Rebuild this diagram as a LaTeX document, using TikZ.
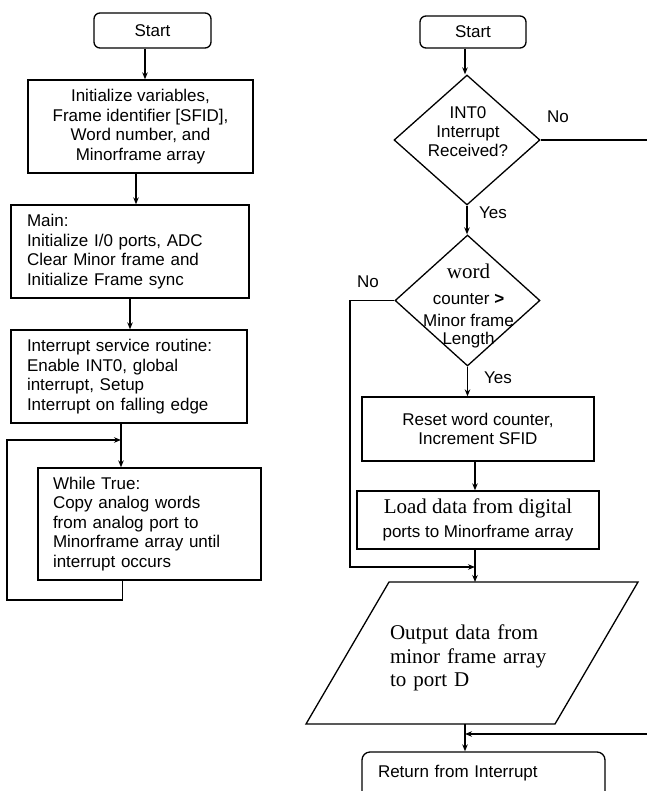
\documentclass[tikz,border=0pt]{standalone}
\usepackage{fontspec}
\setmainfont{Liberation Sans}
\newfontfamily\serifit{Liberation Serif}
\usetikzlibrary{shapes.geometric,arrows.meta}
\tikzset{
 base/.style={draw, line width=1.3pt, font=\fontsize{17}{19.5}\selectfont, inner sep=0pt},
 term/.style={base, rounded corners=6pt, align=center},
 box/.style={base, rectangle, align=center},
 lbox/.style={base, rectangle, align=left},
 dec/.style={draw, line width=1.3pt, diamond, inner sep=0pt},
 txt/.style={font=\fontsize{17}{19}\selectfont, align=center, inner sep=0pt},
 lbl/.style={font=\fontsize{17}{19.5}\selectfont, inner sep=0pt},
 ptxt/.style={font=\serifit\fontsize{21}{23.5}\selectfont, inner sep=0pt},
 arr/.style={line width=1.3pt, -{Stealth[length=7pt,width=5.5pt]}},
 ln/.style={line width=1.3pt},
}
\begin{document}
\begin{tikzpicture}[x=1pt,y=-1pt]
\useasboundingbox (0,0) rectangle (646,791);
\fill[white] (0,0) rectangle (646,791);
% left column
\node[term, minimum width=117pt, minimum height=35pt] (s1) at (152.5,30.5) {Start};
\node[box, minimum width=225pt, minimum height=93pt] (init) at (140.5,126.5) {Initialize variables,\\Frame identifier [SFID],\\Word number, and\\Minorframe array};
\node[lbox, text width=206pt, inner xsep=16pt, minimum height=93pt] (main) at (130,251.5) {Main:\\Initialize I/0 ports, ADC\\Clear Minor frame and\\Initialize Frame sync};
\node[lbox, text width=204pt, inner xsep=16pt, minimum height=93pt] (isr) at (129,376.5) {Interrupt service routine:\\Enable INT0, global\\interrupt, Setup\\Interrupt on falling edge};
\node[lbox, text width=193pt, inner xsep=15pt, minimum height=112pt] (wh) at (149.5,524) {While True:\\Copy analog words\\from analog port to\\Minorframe array until\\interrupt occurs};
\coordinate (c1) at ([xshift=-7.5pt]s1.south);
\draw[arr] (c1) -- (c1 |- init.north);
\coordinate (c2) at ([xshift=-4.5pt]init.south);
\draw[arr] (c2) -- (c2 |- main.north);
\draw[arr] (main.south) -- (main.south |- isr.north);
\coordinate (c4) at ([xshift=-8pt]isr.south);
\draw[arr] (c4) -- (c4 |- wh.north);
\coordinate (c5) at ([xshift=-27pt]wh.south);
\coordinate (loopB) at (7,600);
\coordinate (loopT) at (7,440);
\draw[arr] (c5) -- (c5 |- loopB) -- (loopB) -- (loopT) -- (loopT -| c4);
% right column
\node[term, minimum width=106pt, minimum height=32pt] (s2) at (473,32) {Start};
\node[dec, minimum width=146pt, minimum height=130pt] (d1) at (467,140) {};
\node[txt] (d1t) at ([xshift=1pt,yshift=8pt]d1.center) {INT0\\Interrupt\\Received?};
\coordinate (c6) at ([xshift=-8pt]s2.south);
\draw[arr] (c6) -- (c6 |- d1.north);
\node[lbl] (no1) at (558,117) {No};
\node[lbl] (yes1) at (493,213) {Yes};
\coordinate (rE1) at (650,140);
\draw[ln] (d1.east) -- (d1.east -| rE1);
\node[dec, minimum width=145pt, minimum height=131pt] (d2) at (467.5,300.5) {};
\node[txt, font=\fontsize{17}{19.5}\selectfont] (d2t) at ([xshift=1pt,yshift=-5.6pt]d2.center) {{\serifit\fontsize{21}{24}\selectfont word}\\[6pt]counter \textbf{>}\\[3pt]Minor frame\\[-1.5pt]Length};
\draw[arr] (d1.south) -- (d1.south |- d2.north);
\node[lbl] (no2) at (368,282) {No};
\node[lbl] (yes2) at (498,378) {Yes};
\node[box, minimum width=232pt, minimum height=64pt] (reset) at (478,429) {Reset word counter,\\Increment SFID};
\draw[arr] (d2.south) -- (d2.south |- reset.north);
\node[box, minimum width=242pt, minimum height=58pt] (load) at (478,520) {{\serifit\fontsize{21}{24}\selectfont Load data from digital}\\[4.5pt]ports to Minorframe array};
\coordinate (c8) at ([xshift=-3pt]reset.south);
\draw[arr] (c8) -- (c8 |- load.north);
\coordinate (pin) at ([xshift=-3pt]load.south);
\coordinate (pTL) at (389,582);
\coordinate (pTR) at (638,582);
\coordinate (pBR) at (555,724);
\coordinate (pBL) at (306,724);
\draw[ln] (pTL) -- (pTR) -- (pBR) -- (pBL) -- cycle;
\node[ptxt, text width=158pt, align=left] (ptext) at (469,658) {Output data from\\minor frame array\\to port D};
\draw[arr] (pin) -- (pin |- pTL);
\coordinate (c7) at (350,567);
\draw[arr] (d2.west) -- (d2.west -| c7) -- (c7) -- (c7 -| pin);
\node[lbox, rounded corners=8pt, text width=211pt, inner xsep=16pt, minimum height=48pt] (ret) at (483.5,776) {\raisebox{10pt}{Return from Interrupt}};
\coordinate (pout) at (465,724);
\draw[arr] (pout) -- (pout |- ret.north);
\coordinate (rE2) at (650,734);
\draw[arr] (rE2) -- (rE2 -| pout);
\end{tikzpicture}
\end{document}
